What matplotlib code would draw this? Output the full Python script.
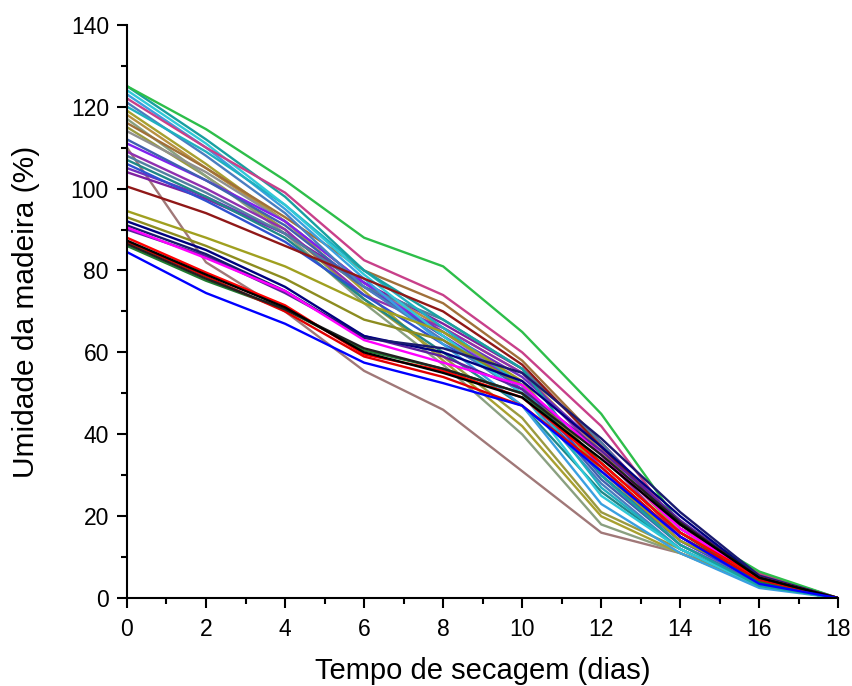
import matplotlib
matplotlib.use('Agg')
import matplotlib.pyplot as plt
from matplotlib.ticker import MultipleLocator

plt.rcParams['font.family'] = ['Liberation Sans', 'DejaVu Sans']

days = [0, 2, 4, 6, 8, 10, 12, 14, 16, 18]

# umidade (%) de cada peça ao longo da secagem
# grupo inferior
u_blue = [84.5, 74.5, 67, 57.5, 52.5, 47, 31, 15, 3.5, 0]
u_black = [87.3, 79, 71, 60, 55, 49, 34, 18, 5, 0]
u_black2 = [86.5, 78, 70.5, 61, 56, 50, 35, 18.5, 5, 0]
u_red = [88, 79.5, 71.5, 59.5, 55.5, 49, 33, 16, 5, 0]
u_red2 = [87, 78.5, 70, 59, 54, 47, 32, 15, 4.5, 0]
u_dkgreen = [86, 77.5, 70.5, 60.5, 56, 50, 33, 16, 4, 0]
u_magenta = [90.5, 83, 75, 63, 57.5, 52, 35, 17, 5, 0]
u_navy = [92, 85, 76, 64, 60, 53, 37, 20, 5, 0]
u_navy2 = [91, 84, 75, 63.5, 61, 55, 39, 21, 5.5, 0]
u_purple_lo = [90, 83.5, 74.5, 64, 59, 51, 36, 19, 5, 0]
# grupo intermediario
u_olive = [94.5, 88, 81, 72, 65, 53, 31, 14, 5, 0]
u_olive2 = [93, 86, 78, 68, 63, 52, 33, 16, 5, 0]
u_wine = [100.5, 94, 86, 78, 70, 57, 37, 18, 5, 0]
u_purple = [104, 97.5, 89, 77, 67, 56, 38, 18, 5, 0]
# grupo superior
u_green = [125, 114.5, 102, 88, 81, 65, 45, 18, 6.5, 0]
u_pink = [122, 110, 99, 82.5, 74, 60, 42, 17, 6, 0]
u_teal = [125, 112, 98, 80, 68, 56, 30, 13, 3, 0]
u_cyan = [124, 111, 96, 79, 64, 50, 25, 12, 3, 0]
u_ltblue = [123, 110, 95, 78, 62, 47, 23, 11, 2.5, 0]
u_steel = [121, 108, 94, 76, 63, 50, 28, 12, 3, 0]
u_olive3 = [119, 106, 92, 75, 58, 42, 20, 11, 3, 0]
u_tan = [118, 105, 92, 77, 66, 55, 36, 16, 6, 0]
u_graygreen = [117, 103, 89, 72, 57, 40, 18, 11, 3, 0]
u_brown = [116, 105, 93, 80, 72, 58, 38, 17, 6, 0]
u_gray = [114, 104, 92, 77, 65, 52, 30, 13, 4, 0]
u_rose = [110, 82, 70, 55.5, 46, 31, 16, 11, 4, 0]
u_violet = [111, 102, 92, 77, 64, 52, 32, 14, 4, 0]
u_purple2 = [109, 100, 90, 74, 66, 55, 35, 15, 4, 0]
u_steel2 = [108, 99, 89, 76, 68, 56, 38, 17, 5, 0]
u_teal2 = [107, 98, 88, 73, 60, 47, 26, 12, 3, 0]
u_blue2 = [106, 97, 87, 74, 62, 52, 30, 14, 4, 0]
u_purple3 = [105, 98, 89, 76, 65, 54, 37, 18, 5, 0]
u_cyan2 = [120, 109, 96, 80, 66, 52, 27, 12, 3, 0]
u_olive4 = [115, 103, 90, 73, 59, 44, 21, 12, 3, 0]
u_blue3 = [112, 102, 91, 76, 64, 51, 29, 13, 3.5, 0]

series = [
    (u_rose, '#A07878'),
    (u_olive4, '#9A9A40'),
    (u_graygreen, '#8AA080'),
    (u_olive3, '#A8A030'),
    (u_tan, '#B89040'),
    (u_brown, '#A0703A'),
    (u_gray, '#909090'),
    (u_purple, '#8020A0'),
    (u_purple2, '#9030B0'),
    (u_purple3, '#7030C0'),
    (u_violet, '#8020F0'),
    (u_steel2, '#5080A0'),
    (u_teal2, '#208888'),
    (u_blue2, '#3050D0'),
    (u_blue3, '#4060B0'),
    (u_steel, '#4A7EC0'),
    (u_ltblue, '#3AA0E0'),
    (u_cyan2, '#20B0C0'),
    (u_cyan, '#30C8D8'),
    (u_teal, '#18A0A0'),
    (u_pink, '#C8408A'),
    (u_green, '#2DBE4A'),
    (u_wine, '#901818'),
    (u_olive, '#A0A020'),
    (u_olive2, '#8C8C20'),
    (u_purple_lo, '#6020A0'),
    (u_navy, '#000080'),
    (u_navy2, '#1A1A70'),
    (u_magenta, '#FF00FF'),
    (u_dkgreen, '#207A30'),
    (u_red2, '#E00000'),
    (u_red, '#FF0000'),
    (u_black2, '#202020'),
    (u_black, '#000000'),
    (u_blue, '#0000FF'),
]

fig = plt.figure(figsize=(8.52, 6.86), dpi=100)
ax = fig.add_axes([0.149, 0.128, 0.835, 0.836])

for vals, c in series:
    ax.plot(days, vals, color=c, lw=1.7, solid_joinstyle='round')

ax.set_xlim(0, 18)
ax.set_ylim(0, 140)
ax.xaxis.set_major_locator(MultipleLocator(2))
ax.xaxis.set_minor_locator(MultipleLocator(1))
ax.yaxis.set_major_locator(MultipleLocator(20))
ax.yaxis.set_minor_locator(MultipleLocator(10))
for s in ['top', 'right']:
    ax.spines[s].set_visible(False)
for s in ['left', 'bottom']:
    ax.spines[s].set_linewidth(1.5)
ax.tick_params(which='major', length=7, width=1.5, direction='out', labelsize=16.5)
ax.tick_params(axis='x', which='major', pad=7)
ax.tick_params(axis='y', which='major', pad=6)
ax.tick_params(which='minor', length=4, width=1.5, direction='out')

ax.set_xlabel('Tempo de secagem (dias)', fontsize=21, labelpad=12)
ax.set_ylabel('Umidade da madeira (%)', fontsize=21.5, labelpad=22)

fig.savefig('out.png', dpi=100)
